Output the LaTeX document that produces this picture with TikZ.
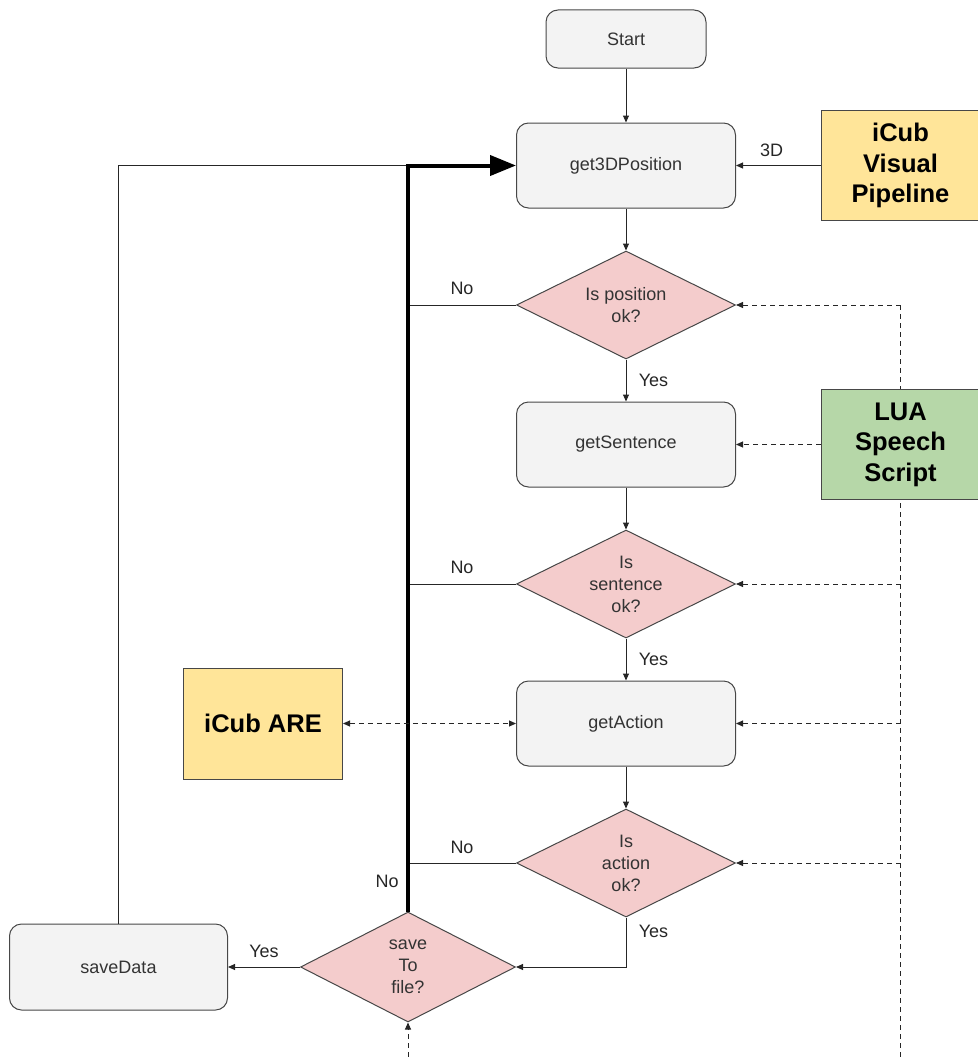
\documentclass[tikz,border=0pt]{standalone}
\usepackage{fontspec}
\setmainfont{Liberation Sans}
\usepackage{tikz}
\usetikzlibrary{positioning}
\usetikzlibrary{shapes.geometric,arrows.meta,backgrounds}
\usepackage{xcolor}
\definecolor{boxgray}{HTML}{F3F3F3}
\definecolor{decpink}{HTML}{F4CCCC}
\definecolor{srcyellow}{HTML}{FFE599}
\definecolor{srcgreen}{HTML}{B6D7A8}
\definecolor{edgegray}{HTML}{474747}

\begin{document}
\begin{tikzpicture}[x=1pt, y=1pt,
		font=\fontsize{18}{22}\selectfont,
		stepnode/.style={rectangle, rounded corners=12pt, draw=edgegray, fill=boxgray, line width=1pt, minimum width=219pt, minimum height=85pt, text=black!80},
		decnode/.style={diamond, aspect=2, inner sep=0pt, draw=edgegray, fill=decpink, line width=1pt, minimum width=219pt, minimum height=108pt, align=center, text=black!80},
		srcnode/.style={rectangle, draw=edgegray, line width=1pt, minimum width=158pt, minimum height=110pt, align=center, font=\fontsize{25.5}{30.5}\selectfont\bfseries},
		lbl/.style={text=black!85},
		plain/.style={line width=1pt, draw=black!85},
		flow/.style={plain, -{Triangle[length=7pt,width=6pt]}},
		dashline/.style={plain, dash pattern=on 5pt off 4pt},
		dashflow/.style={dashline, -{Triangle[length=7pt,width=6pt]}},
		trunkline/.style={line width=4pt, draw=black, -{Triangle[length=26pt,width=20pt]}},
		]
		\useasboundingbox (0,-1) rectangle (977,-1058);
		
		%Nodes
		\node[stepnode, minimum width=160pt, minimum height=58pt] (start) at (626,-40) {Start};
		\node[stepnode]  (get3d)    [below=54pt of start]    {get3DPosition};
		\node[decnode]   (posok)    [below=42pt of get3d]    {Is position\\ok?};
		\node[stepnode]  (sentence) [below=42pt of posok]    {getSentence};
		\node[decnode]   (sentok)   [below=42pt of sentence] {Is\\sentence\\ok?};
		\node[stepnode]  (action)   [below=42pt of sentok]   {getAction};
		\node[decnode]   (actok)    [below=42pt of action]   {Is\\action\\ok?};
		\node[decnode, minimum width=215pt, minimum height=110pt] (savefile) at (408,-968) {save\\To\\file?};
		\node[stepnode, minimum width=218pt, minimum height=86pt] (savedata) [left=72pt of savefile] {saveData};
		\node[srcnode, fill=srcyellow] (visual) [right=85pt of get3d]    {iCub\\Visual\\Pipeline};
		\node[srcnode, fill=srcgreen]  (lua)    [right=85pt of sentence] {LUA\\Speech\\Script};
		\node[srcnode, fill=srcyellow, minimum width=159pt, minimum height=111pt] (are) [left=173pt of action] {iCub ARE};
		
		%Coordinates
		\coordinate (bottom)  at (0,-1058);
		\coordinate (trunk)   at (savefile |- get3d);
		\coordinate (bus-top) at (lua |- posok);
		
		%Lines
		\draw[flow] (start) -- (get3d);
		\draw[flow] (get3d) -- (posok);
		\draw[flow] (posok) -- node[right=9pt, lbl] {Yes} (sentence);
		\draw[flow] (sentence) -- (sentok);
		\draw[flow] (sentok) -- node[right=9pt, lbl] {Yes} (action);
		\draw[flow] (action) -- (actok);
		\draw[flow] (actok.south) |- node[pos=0.14, right=9pt, lbl] {Yes} (savefile.east);
		\draw[flow] (savefile.west) -- node[above=6pt, lbl] {Yes} (savedata.east);
		\draw[flow] (visual.west) -- node[above=5pt, xshift=-7pt, lbl] {3D} (get3d.east);
		
		\draw[plain] (savedata.north) |- (trunk);
		\draw[plain] (posok.west) -- node[above=6pt, lbl] {No} (posok.west -| trunk);
		\draw[plain] (sentok.west) -- node[above=6pt, lbl] {No} (sentok.west -| trunk);
		\draw[plain] (actok.west) -- node[above=6pt, lbl] {No} (actok.west -| trunk);
		\draw[trunkline] (savefile.north) -- node[pos=0.04, left=4pt, lbl] {No} (trunk) -- (get3d.west);
		
		% Dashed links
		\begin{pgfonlayer}{background}
			\draw[dashline] (bus-top) -- (lua |- bottom);
		\end{pgfonlayer}
		\draw[dashflow] (bus-top) -- (posok.east);
		\draw[dashflow] (lua.west) -- (sentence.east);
		\draw[dashflow] (sentok.east -| lua) -- (sentok.east);
		\draw[dashflow] (action.east -| lua) -- (action.east);
		\draw[dashflow] (actok.east -| lua) -- (actok.east);
		\draw[dashflow, {Triangle[length=7pt,width=6pt]}-{Triangle[length=7pt,width=6pt]}] (are.east) -- (action.west);
		\draw[dashflow] (savefile |- bottom) -- (savefile.south);
		
	\end{tikzpicture}
\end{document}
